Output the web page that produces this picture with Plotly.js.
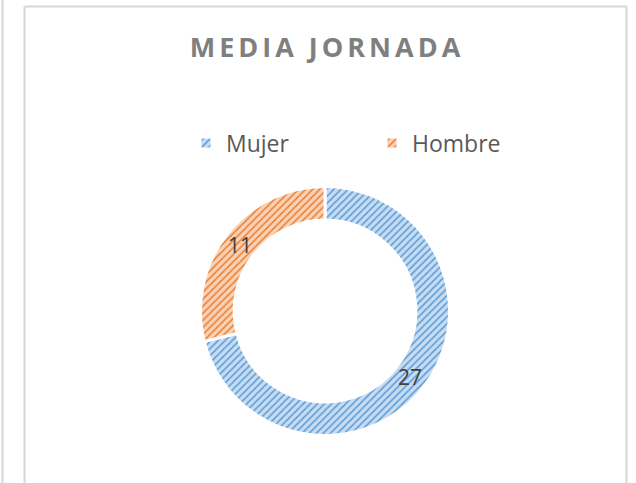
<!DOCTYPE html>
<html>
<head>
<meta charset="utf-8">
<script src="https://cdn.plot.ly/plotly-3.0.1.min.js"></script>
<style>
html,body{margin:0;padding:0;background:#fff;}
#chart{width:636px;height:483px;}
.gtitle{letter-spacing:4px;}
</style>
</head>
<body>
<div id="chart"></div>
<script>
const categories = ['Mujer', 'Hombre'];
const values = [27, 11];
const chartTitle = 'MEDIA JORNADA';
const bgColors = ['#c6dcf2', '#f9d2b6'];
const fgColors = ['#5b9bd5', '#ed7d31'];

const W = 636, H = 483;
const cx = 325, cy = 311, R = 124.5, HOLE = 0.73;

const trace = {
  type: 'pie',
  labels: categories,
  values: values,
  hole: HOLE,
  sort: false,
  direction: 'clockwise',
  rotation: 0,
  textinfo: 'none',
  marker: {
    colors: bgColors,
    line: {color: '#ffffff', width: 3},
    pattern: {
      shape: ['/', '/'],
      fgcolor: fgColors,
      bgcolor: bgColors,
      size: 5,
      solidity: 0.3,
      fillmode: 'replace'
    }
  },
  domain: {
    x: [(cx - R) / W, (cx + R) / W],
    y: [(H - cy - R) / H, (H - cy + R) / H]
  },
  hoverinfo: 'label+value'
};

// value labels at the middle of each ring segment, derived from the data
const total = values.reduce((a, b) => a + b, 0);
const rMid = R * (1 + HOLE) / 2;
let cum = 0;
const annotations = values.map(v => {
  const midFrac = (cum + v / 2) / total;
  cum += v;
  const ang = midFrac * 2 * Math.PI; // clockwise from 12 o'clock
  const px = cx + rMid * Math.sin(ang);
  const py = cy - rMid * Math.cos(ang);
  return {
    text: String(v),
    xref: 'paper', yref: 'paper',
    x: px / W, y: 1 - py / H,
    xanchor: 'center', yanchor: 'middle',
    showarrow: false,
    font: {family: 'Open Sans, sans-serif', size: 21, color: '#404040'}
  };
});

const lineColor = '#d6d6d6';
const layout = {
  width: W,
  height: H,
  margin: {l: 0, r: 0, t: 0, b: 0},
  paper_bgcolor: '#ffffff',
  title: {
    text: '<b>' + chartTitle + '</b>',
    font: {family: 'Open Sans, sans-serif', size: 27, color: '#7f7f7f'},
    x: (318 + 9) / W, xanchor: 'center',
    y: 1 - 48 / H, yanchor: 'middle', yref: 'container'
  },
  showlegend: true,
  legend: {
    orientation: 'h',
    x: (318 + 54) / W, xanchor: 'center',
    y: 1 - 143 / H, yanchor: 'middle',
    font: {family: 'Open Sans, sans-serif', size: 23, color: '#595959'},
    entrywidth: 141,
    entrywidthmode: 'pixels',
    itemwidth: 26,
    traceorder: 'normal'
  },
  annotations: annotations,
  shapes: [
    {type: 'line', xref: 'paper', yref: 'paper', x0: 2.5 / W, x1: 2.5 / W, y0: 0, y1: 1, line: {color: lineColor, width: 2}},
    {type: 'line', xref: 'paper', yref: 'paper', x0: 24.5 / W, x1: 24.5 / W, y0: 0, y1: 1 - 6.5 / H, line: {color: lineColor, width: 2}},
    {type: 'line', xref: 'paper', yref: 'paper', x0: 24.5 / W, x1: 626.5 / W, y0: 1 - 6.5 / H, y1: 1 - 6.5 / H, line: {color: lineColor, width: 2}},
    {type: 'line', xref: 'paper', yref: 'paper', x0: 626.5 / W, x1: 626.5 / W, y0: 0, y1: 1 - 6.5 / H, line: {color: lineColor, width: 2}}
  ]
};

Plotly.newPlot('chart', [trace], layout, {displayModeBar: false, staticPlot: true});
</script>
</body>
</html>
